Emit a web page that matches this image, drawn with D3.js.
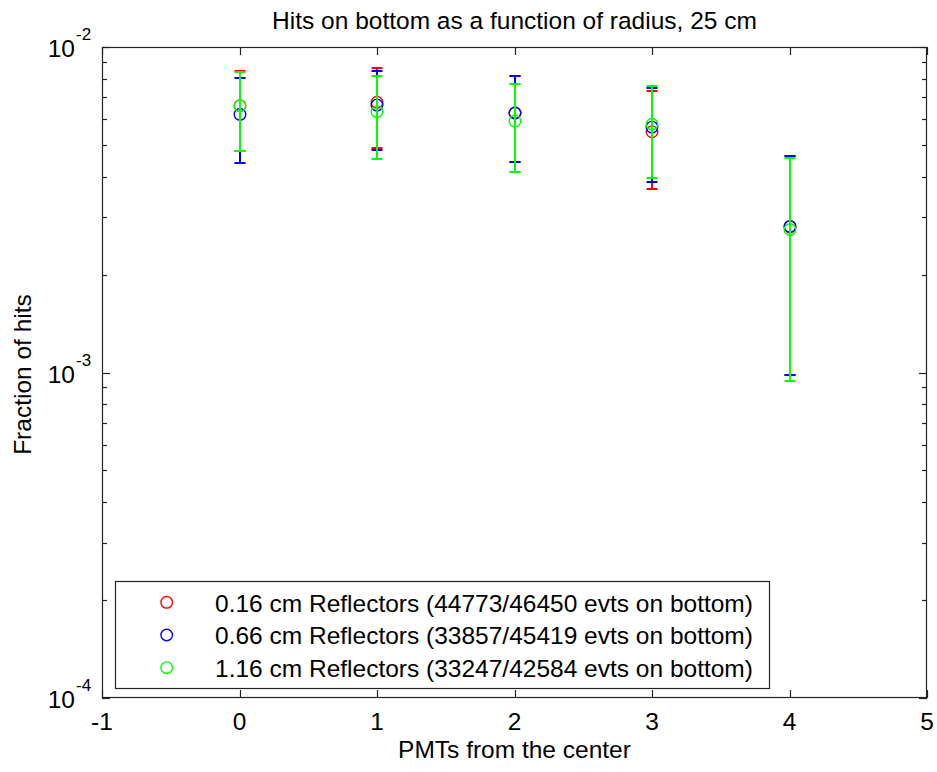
<!DOCTYPE html>
<html><head><meta charset="utf-8">
<script src="https://cdn.jsdelivr.net/npm/d3@7"></script>
<style>body{margin:0;background:#fff}svg{display:block}text{font-family:"Liberation Sans",Arial,sans-serif;fill:#000}</style>
</head><body>
<script>
const xs = [0, 1, 2, 3, 4];
const redVals = [0.00660, 0.00676, 0.00627, 0.00549, 0.00280];
const redErr = [0.00182, 0.00186, 0.00185, 0.00182, 0.00182];
const blueVals = [0.00621, 0.00663, 0.00627, 0.00567, 0.00281];
const blueErr = [0.00182, 0.00180, 0.00185, 0.00183, 0.00183];
const greenVals = [0.00659, 0.00633, 0.00592, 0.00579, 0.00275];
const greenErr = [0.00180, 0.00180, 0.00180, 0.00182, 0.00181];
const seriesLabels = [
  "0.16 cm Reflectors (44773/46450 evts on bottom)",
  "0.66 cm Reflectors (33857/45419 evts on bottom)",
  "1.16 cm Reflectors (33247/42584 evts on bottom)"
];
const seriesColors = ["#ff0000", "#0000ff", "#00ff00"];
const xTicks = [-1, 0, 1, 2, 3, 4, 5];
const yMajor = [1e-4, 1e-3, 1e-2];
const yExp = ["-4", "-3", "-2"];
const titleText = "Hits on bottom as a function of radius, 25 cm";
const xLabel = "PMTs from the center";
const yLabel = "Fraction of hits";

const W = 937, H = 772;
const L = 102, R = 927, T = 47, B = 698;
const FS = 24.5;
const svg = d3.select("body").append("svg").attr("width", W).attr("height", H);
const x = d3.scaleLinear().domain([-1, 5]).range([L, R]);
const y = d3.scaleLog().domain([1e-4, 1e-2]).range([B, T]);

// frame
svg.append("rect").attr("x", L + 0.5).attr("y", T + 0.5).attr("width", R - L - 1).attr("height", B - T - 1)
  .attr("fill", "none").attr("stroke", "#222").attr("stroke-width", 1.2);

// x ticks (bottom & top, inward)
const gt = svg.append("g").attr("stroke", "#222").attr("stroke-width", 1.2);
xTicks.forEach(t => {
  const px = Math.round(x(t)) + 0.5;
  gt.append("line").attr("x1", px).attr("x2", px).attr("y1", B).attr("y2", B - 8);
  gt.append("line").attr("x1", px).attr("x2", px).attr("y1", T).attr("y2", T + 8);
  svg.append("text").attr("x", x(t)).attr("y", B + 32).attr("text-anchor", "middle")
    .attr("font-size", FS).text(t);
});
// y ticks
const minor = [];
for (let e = -4; e < -2; e++) for (let m = 2; m <= 9; m++) minor.push(m * Math.pow(10, e));
minor.forEach(v => {
  const py = Math.round(y(v)) + 0.5;
  gt.append("line").attr("x1", L).attr("x2", L + 5).attr("y1", py).attr("y2", py);
  gt.append("line").attr("x1", R).attr("x2", R - 5).attr("y1", py).attr("y2", py);
});
yMajor.forEach((v, i) => {
  const py = Math.round(y(v)) + 0.5;
  gt.append("line").attr("x1", L).attr("x2", L + 8).attr("y1", py).attr("y2", py);
  gt.append("line").attr("x1", R).attr("x2", R - 8).attr("y1", py).attr("y2", py);
  svg.append("text").attr("x", 75).attr("y", y(v) + 10).attr("text-anchor", "end")
    .attr("font-size", FS).text("10");
  svg.append("text").attr("x", 76).attr("y", y(v) - 7).attr("text-anchor", "start")
    .attr("font-size", 17).text(yExp[i]);
});

// data
const series = [
  {vals: redVals, err: redErr},
  {vals: blueVals, err: blueErr},
  {vals: greenVals, err: greenErr}
];
const cap = 5.5;
series.forEach((s, si) => {
  const g = svg.append("g").attr("stroke", seriesColors[si]).attr("fill", "none");
  xs.forEach((xv, i) => {
    const v = s.vals[i], e = s.err[i];
    const cx = Math.round(x(xv)), yt = Math.round(y(v + e)), yb = Math.round(y(v - e)), cy = y(v);
    g.append("line").attr("x1", cx).attr("x2", cx).attr("y1", yt).attr("y2", yb).attr("stroke-width", 2);
    g.append("line").attr("x1", cx - cap).attr("x2", cx + cap).attr("y1", yt).attr("y2", yt).attr("stroke-width", 2);
    g.append("line").attr("x1", cx - cap).attr("x2", cx + cap).attr("y1", yb).attr("y2", yb).attr("stroke-width", 2);
    g.append("circle").attr("cx", cx).attr("cy", cy).attr("r", 5.8).attr("stroke-width", 1.4);
  });
});

// legend
svg.append("rect").attr("x", 115.5).attr("y", 581.5).attr("width", 654).attr("height", 107)
  .attr("fill", "#fff").attr("stroke", "#222").attr("stroke-width", 1.2);
seriesLabels.forEach((lab, i) => {
  const ly = 602.3 + i * 32.7;
  svg.append("circle").attr("cx", 166.7).attr("cy", ly).attr("r", 5.8)
    .attr("fill", "none").attr("stroke", seriesColors[i]).attr("stroke-width", 1.4);
  svg.append("text").attr("x", 215).attr("y", ly + 9.2).attr("font-size", FS).text(lab);
});

// title and labels
svg.append("text").attr("x", (L + R) / 2).attr("y", 29).attr("text-anchor", "middle")
  .attr("font-size", FS).text(titleText);
svg.append("text").attr("x", (L + R) / 2).attr("y", 758).attr("text-anchor", "middle")
  .attr("font-size", FS).text(xLabel);
svg.append("text").attr("transform", `translate(31,${(T + B) / 2 + 2}) rotate(-90)`)
  .attr("text-anchor", "middle").attr("font-size", FS).text(yLabel);
</script>
</body></html>
